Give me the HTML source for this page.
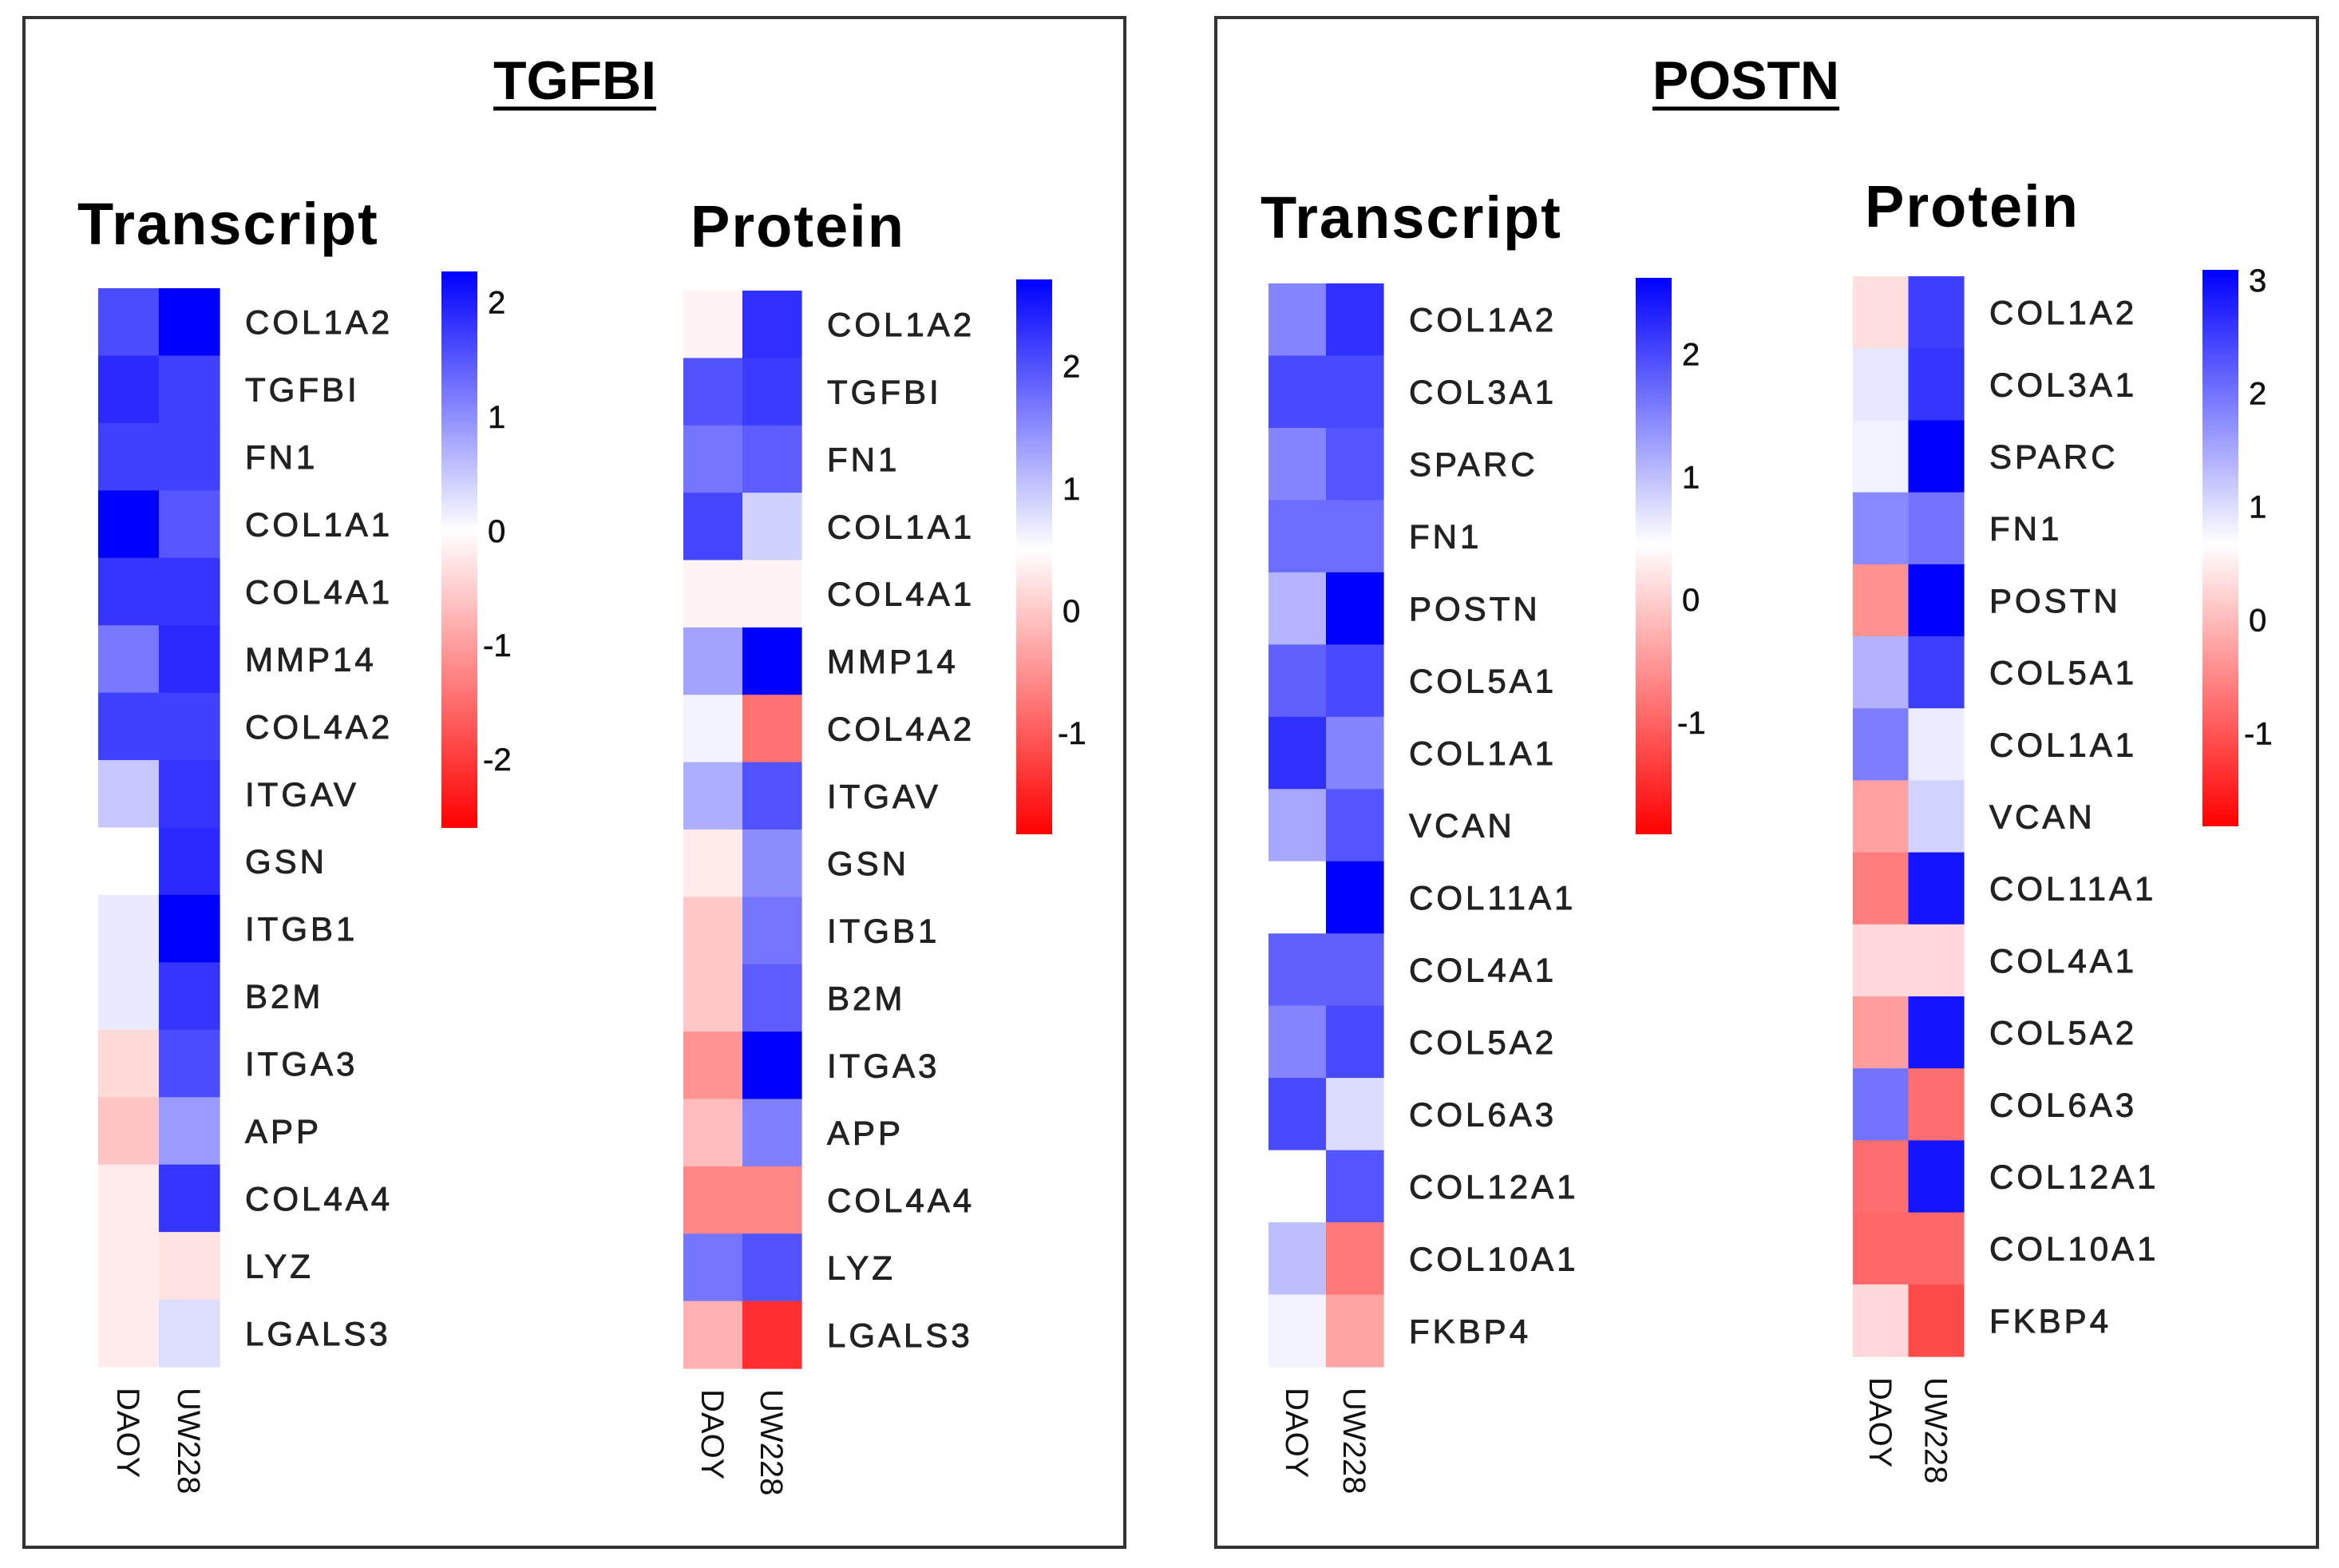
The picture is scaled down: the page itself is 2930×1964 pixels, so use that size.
<!DOCTYPE html>
<html><head><meta charset="utf-8"><style>
body{margin:0;background:#fff;}
svg{display:block;font-family:"Liberation Sans",Arial,sans-serif;}
</style></head><body>
<svg id="fig" width="2930" height="1964" viewBox="0 0 2930 1964"></svg>
<script>
const tgfbiTransGenes=["COL1A2","TGFBI","FN1","COL1A1","COL4A1","MMP14","COL4A2","ITGAV","GSN","ITGB1","B2M","ITGA3","APP","COL4A4","LYZ","LGALS3"];
const tgfbiTransDAOY=[1.6,1.9,1.7,2.27,1.8,1.2,1.7,0.5,0.0,0.2,0.2,-0.4,-0.6,-0.2,-0.2,-0.2];
const tgfbiTransUW228=[2.27,1.7,1.7,1.5,1.8,1.9,1.7,1.8,1.9,2.27,1.8,1.6,0.9,1.8,-0.3,0.3];
const tgfbiTransTicks=[2,1,0,-1,-2];
const tgfbiProtGenes=["COL1A2","TGFBI","FN1","COL1A1","COL4A1","MMP14","COL4A2","ITGAV","GSN","ITGB1","B2M","ITGA3","APP","COL4A4","LYZ","LGALS3"];
const tgfbiProtDAOY=[0.4,2.0,1.7,2.1,0.4,1.3,0.6,1.2,0.3,0.0,0.0,-0.5,-0.1,-0.6,1.7,-0.2];
const tgfbiProtUW228=[2.3,2.2,1.9,0.9,0.4,2.71,-0.8,2.0,1.5,1.7,1.9,2.71,1.6,-0.6,2.0,-1.4];
const tgfbiProtTicks=[2,1,0,-1];
const postnTransGenes=["COL1A2","COL3A1","SPARC","FN1","POSTN","COL5A1","COL1A1","VCAN","COL11A1","COL4A1","COL5A2","COL6A3","COL12A1","COL10A1","FKBP4"];
const postnTransDAOY=[1.5,2.0,1.5,1.7,1.1,1.8,2.2,1.2,0.45,1.8,1.5,2.0,0.45,1.0,0.55];
const postnTransUW228=[2.2,2.0,1.9,1.7,2.62,2.0,1.5,1.9,2.62,1.8,2.0,0.75,1.9,-0.8,-0.4];
const postnTransTicks=[2,1,0,-1];
const postnProtGenes=["COL1A2","COL3A1","SPARC","FN1","POSTN","COL5A1","COL1A1","VCAN","COL11A1","COL4A1","COL5A2","COL6A3","COL12A1","COL10A1","FKBP4"];
const postnProtDAOY=[0.35,0.9,0.8,1.8,-0.4,1.4,1.9,-0.25,-0.6,0.3,-0.3,2.0,-0.75,-0.8,0.3];
const postnProtUW228=[2.5,2.6,3.09,2.0,3.09,2.5,0.85,1.1,2.9,0.3,2.9,-0.75,2.9,-0.8,-1.1];
const postnProtTicks=[3,2,1,0,-1];
const samples=["DAOY","UW228"];

const NS="http://www.w3.org/2000/svg";
const svg=document.getElementById('fig');
function mk(tag,attrs,parent){const e=document.createElementNS(NS,tag);for(const k in attrs)e.setAttribute(k,attrs[k]);(parent||svg).appendChild(e);return e;}

function colorFor(v,min,mid,max){
  let r,g,b;
  if(v>=mid){const t=Math.min(1,(v-mid)/(max-mid));r=Math.round(255*(1-t));g=r;b=255;}
  else{const t=Math.min(1,(mid-v)/(mid-min));r=255;g=Math.round(255*(1-t));b=g;}
  return `rgb(${r},${g},${b})`;
}

let gradId=0;
function heatmap(name,cfg,genes,d1,d2,ticks){
  const g=mk('g',{});
  
  
  const t=mk('text',{x:cfg.titleX,y:cfg.titleY,'font-size':74,'font-weight':'bold','letter-spacing':2,fill:'#000'},g);
  t.textContent=cfg.title;
  
  
  const n=genes.length;
  const rowH=(cfg.y1-cfg.y0)/n, colW=(cfg.x1-cfg.x0)/2;
  const yRow=i=>cfg.y0+i*rowH;
  const xCol=j=>cfg.x0+j*colW;
  [d1,d2].forEach((arr,j)=>{
    arr.forEach((v,i)=>{
      const c=mk('rect',{x:xCol(j),y:yRow(i),width:colW+0.6,height:rowH+0.6,fill:colorFor(v,cfg.min,cfg.mid,cfg.max)},g);
      
      
    });
  });
  genes.forEach((gn,i)=>{
    const l=mk('text',{x:cfg.x1+32,y:yRow(i)+rowH/2+15,'font-size':42,'letter-spacing':4,fill:'#222',stroke:'#222','stroke-width':0.9},g);
    l.textContent=gn;
    
    
  });
  samples.forEach((s,j)=>{
    const cx=xCol(j)+colW/2-14, cy=cfg.y1+26;
    const l=mk('text',{x:0,y:0,'font-size':40,fill:'#111',transform:`translate(${cx},${cy}) rotate(90)`},g);
    l.textContent=s;
    
    
  });
  const id='grad'+(gradId++);
  const defs=mk('defs',{},g);
  const lg=mk('linearGradient',{id:id,x1:0,y1:0,x2:0,y2:1},defs);
  const midFrac=(cfg.max-cfg.mid)/(cfg.max-cfg.min);
  mk('stop',{offset:0,'stop-color':'#0000ff'},lg);
  mk('stop',{offset:midFrac,'stop-color':'#ffffff'},lg);
  mk('stop',{offset:1,'stop-color':'#ff0000'},lg);
  const cb=mk('rect',{x:cfg.cbx,y:cfg.cby0,width:45,height:cfg.cby1-cfg.cby0,fill:`url(#${id})`},g);
  
  
  const yv=v=>cfg.cby0+(cfg.max-v)/(cfg.max-cfg.min)*(cfg.cby1-cfg.cby0);
  ticks.forEach(tv=>{
    const tl=mk('text',{x:cfg.cbx+(tv<0?52:58),y:yv(tv)+14,'font-size':40,fill:'#111',stroke:'#111','stroke-width':0.6},g);
    tl.textContent=(tv<0?'-':'')+Math.abs(tv);
    
    
  });
}

function panel(name,x0,x1,title,cx){
  const r=mk('rect',{x:x0,y:22,width:x1-x0,height:1916,fill:'none',stroke:'#333',"stroke-width":4});
  
  
  const t=mk('text',{x:cx,y:124,'font-size':68,'font-weight':'bold','text-anchor':'middle',fill:'#000'});
  t.textContent=title;
  
  
  const bb=t.getBBox();
  const u=mk('line',{x1:bb.x,x2:bb.x+bb.width,y1:136,y2:136,stroke:'#000','stroke-width':5});
  
  
}

panel('tgfbi',30,1409,'TGFBI',720);
panel('postn',1523,2903,'POSTN',2187);

heatmap('tgfbi-transcript',{title:'Transcript',titleX:97,titleY:306,x0:123,x1:275,y0:361,y1:1712,min:-2.6,mid:0,max:2.27,cbx:553,cby0:340,cby1:1037},tgfbiTransGenes,tgfbiTransDAOY,tgfbiTransUW228,tgfbiTransTicks);
heatmap('tgfbi-protein',{title:'Protein',titleX:865,titleY:309,x0:856,x1:1004,y0:364,y1:1714,min:-1.83,mid:0.5,max:2.71,cbx:1273,cby0:350,cby1:1045},tgfbiProtGenes,tgfbiProtDAOY,tgfbiProtUW228,tgfbiProtTicks);
heatmap('postn-transcript',{title:'Transcript',titleX:1579,titleY:298,x0:1589,x1:1733,y0:355,y1:1712,min:-1.91,mid:0.45,max:2.62,cbx:2049,cby0:348,cby1:1045},postnTransGenes,postnTransDAOY,postnTransUW228,postnTransTicks);
heatmap('postn-protein',{title:'Protein',titleX:2336,titleY:284,x0:2321,x1:2460,y0:346,y1:1699,min:-1.82,mid:0.67,max:3.09,cbx:2759,cby0:338,cby1:1035},postnProtGenes,postnProtDAOY,postnProtUW228,postnProtTicks);
</script>
</body></html>
